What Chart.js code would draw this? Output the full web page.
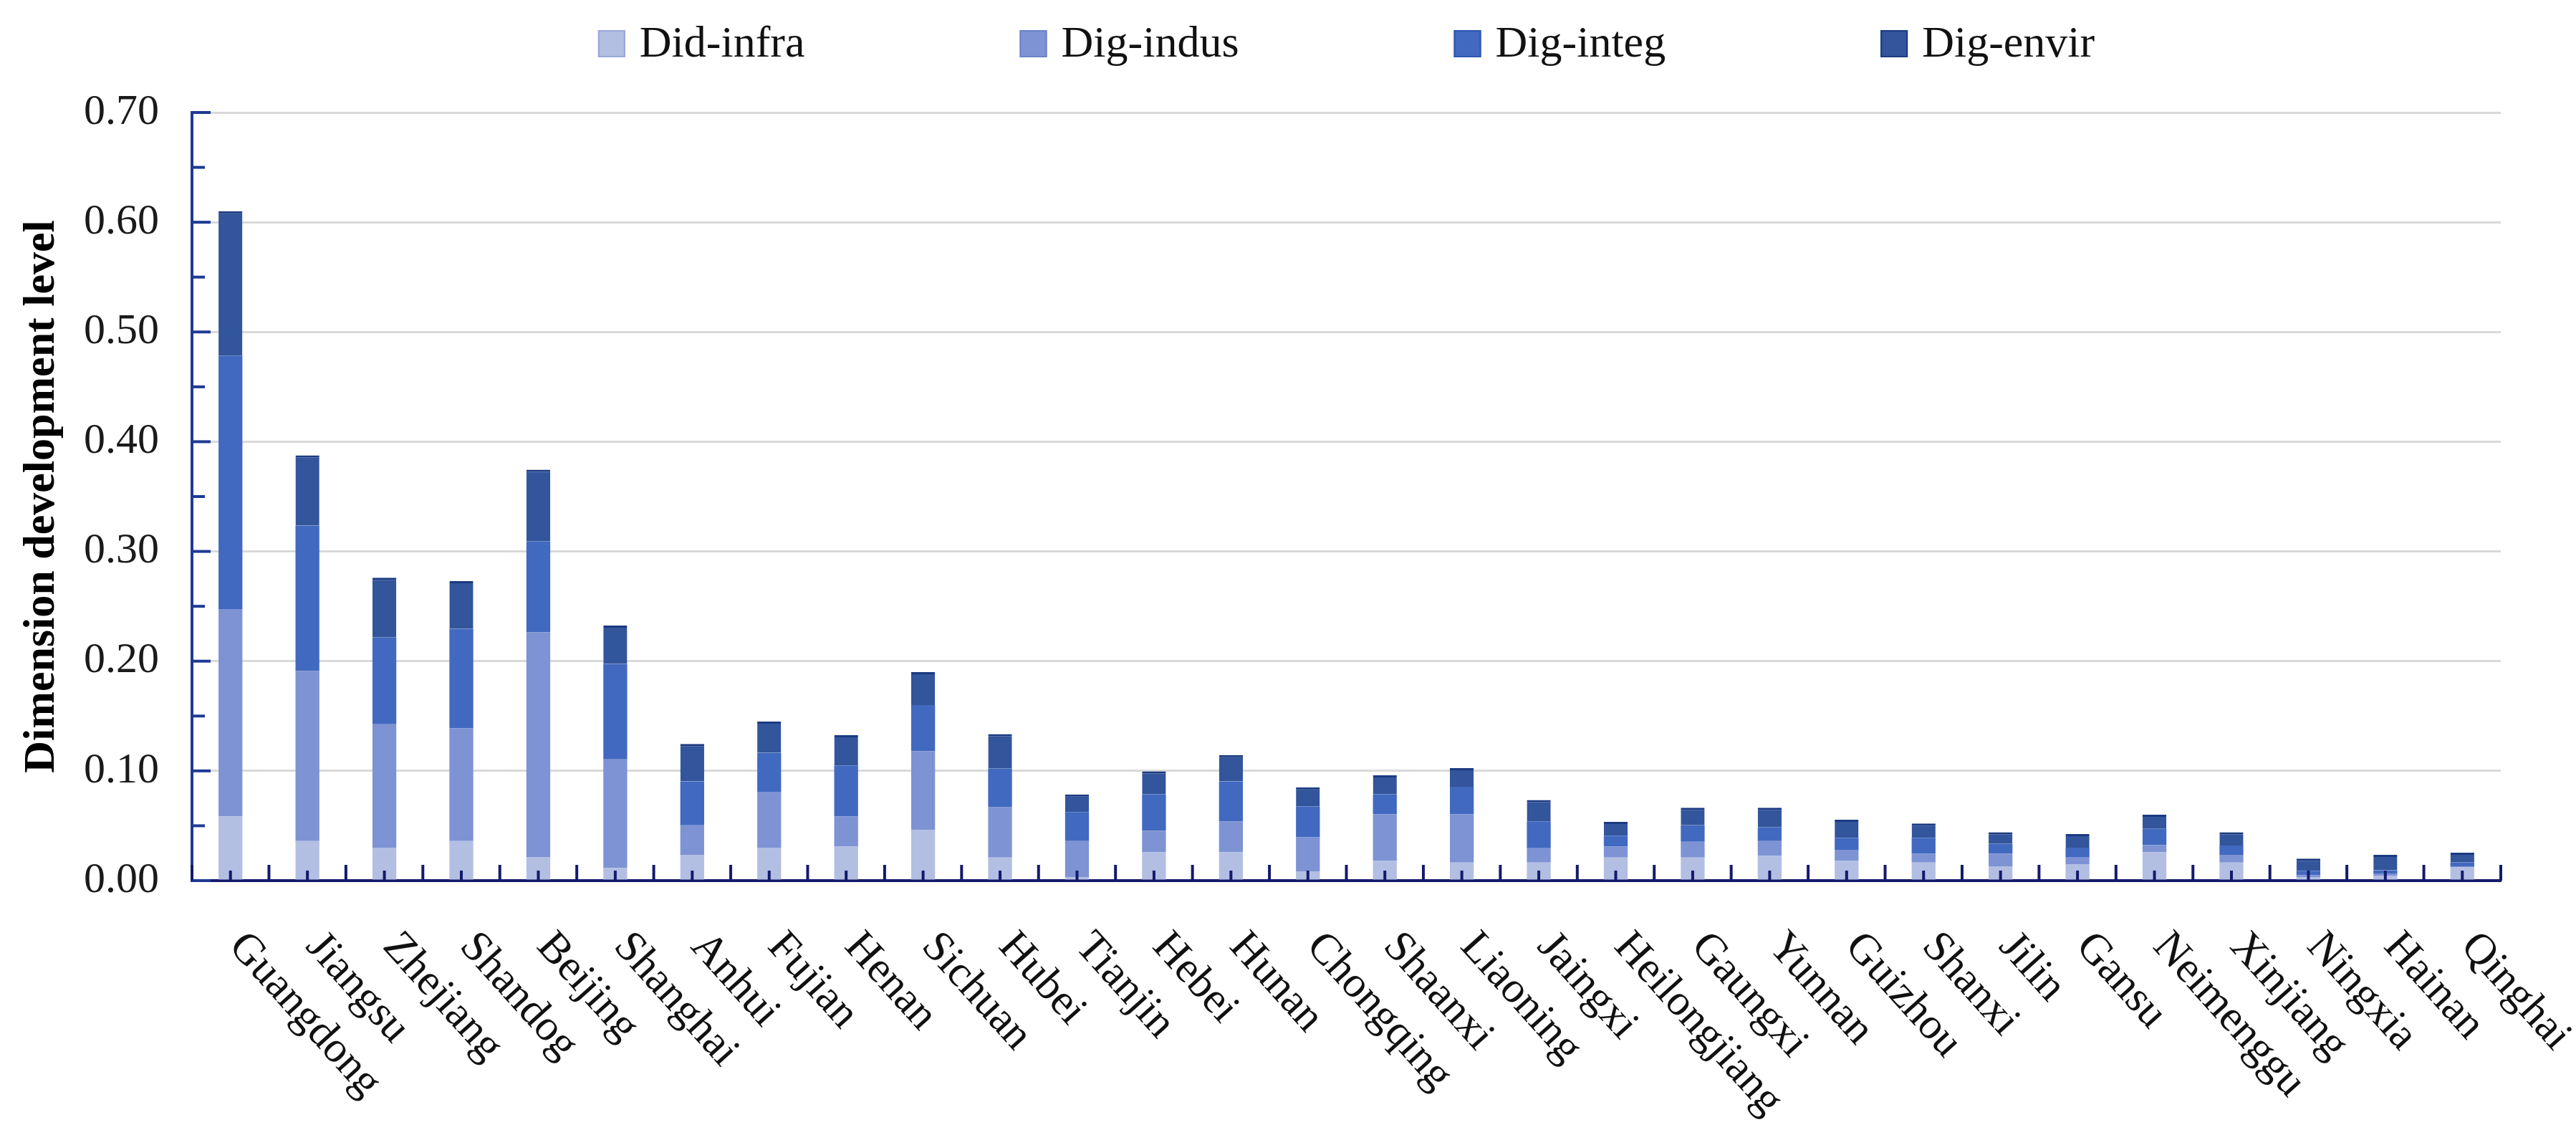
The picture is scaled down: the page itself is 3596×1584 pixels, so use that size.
<!DOCTYPE html>
<html>
<head>
<meta charset="utf-8">
<script src="https://cdn.jsdelivr.net/npm/chart.js@4.4.1/dist/chart.umd.min.js"></script>
<style>
  html, body { margin: 0; padding: 0; background: #ffffff; }
  #wrap { width: 3596px; height: 1584px; position: relative; }
</style>
</head>
<body>
<div id="wrap"><canvas id="c"></canvas></div>
<script>
const categories = ["Guangdong","Jiangsu","Zhejiang","Shandog","Beijing","Shanghai","Anhui","Fujian","Henan","Sichuan",
  "Hubei","Tianjin","Hebei","Hunan","Chongqing","Shaanxi","Liaoning","Jaingxi","Heilongjiang","Gaungxi",
  "Yunnan","Guizhou","Shanxi","Jilin","Gansu","Neimenggu","Xinjiang","Ningxia","Hainan","Qinghai"];

const seriesNames = ["Did-infra","Dig-indus","Dig-integ","Dig-envir"];

const didInfra = [0.0585,0.036,0.030,0.036,0.0215,0.0115,0.0235,0.030,0.031,0.046,
  0.021,0.003,0.026,0.026,0.0085,0.018,0.0165,0.0165,0.021,0.021,
  0.0225,0.018,0.0165,0.013,0.015,0.026,0.0165,0.003,0.0045,0.012];
const digIndus = [0.189,0.155,0.1125,0.103,0.205,0.099,0.027,0.051,0.0275,0.072,
  0.046,0.033,0.0195,0.028,0.031,0.0425,0.044,0.013,0.010,0.0145,
  0.0135,0.010,0.008,0.0115,0.0065,0.0065,0.007,0.002,0.002,0.001];
const digInteg = [0.231,0.1325,0.079,0.0905,0.0825,0.087,0.040,0.0355,0.0465,0.042,
  0.035,0.0265,0.033,0.0365,0.028,0.018,0.025,0.0245,0.010,0.015,
  0.0125,0.011,0.0145,0.009,0.0085,0.015,0.0085,0.004,0.003,0.0035];
const digEnvir = [0.1315,0.064,0.0545,0.0435,0.0655,0.035,0.034,0.0285,0.0275,0.030,
  0.0315,0.016,0.021,0.024,0.0175,0.0175,0.017,0.0195,0.0125,0.016,
  0.018,0.0165,0.013,0.0105,0.0125,0.0125,0.012,0.011,0.014,0.009];

const yTicks = [0, 0.1, 0.2, 0.3, 0.4, 0.5, 0.6, 0.7];
const yTitle = "Dimension development level";

const colors = ["#b3bee3", "#7d93d3", "#4169bf", "#32559b"];
const legendBorders = ["#9aa8d8", "#6a82c6", "#2c56b0", "#1b3a82"];
const axisBlue = "#1f3a93";
const axisNavy = "#141a6b";
const FONT = '"Liberation Serif", "Times New Roman", serif';

const tickPlugin = {
  id: 'tickPlugin',
  afterDraw(chart) {
    const ctx = chart.ctx;
    const xs = chart.scales.x, ys = chart.scales.y;
    const area = chart.chartArea;
    ctx.save();
    // y ticks (inside), major + minor
    ctx.strokeStyle = axisBlue; ctx.lineWidth = 4;
    for (let k = 0; k <= 14; k++) {
      const v = k * 0.05;
      const py = ys.getPixelForValue(v);
      const len = (k % 2 === 0) ? 26 : 18;
      ctx.beginPath(); ctx.moveTo(area.left, py); ctx.lineTo(area.left + len, py); ctx.stroke();
    }
    // x ticks (inside, upward)
    ctx.strokeStyle = axisNavy; ctx.lineWidth = 4;
    const step = xs.getPixelForValue(1) - xs.getPixelForValue(0);
    for (let i = 0; i < categories.length; i++) {
      const cx = xs.getPixelForValue(i);
      ctx.beginPath(); ctx.moveTo(cx, area.bottom); ctx.lineTo(cx, area.bottom - 14); ctx.stroke();
      const bx = cx - step / 2;
      ctx.beginPath(); ctx.moveTo(bx, area.bottom); ctx.lineTo(bx, area.bottom - 22); ctx.stroke();
      if (i === categories.length - 1) {
        const ex = cx + step / 2;
        ctx.beginPath(); ctx.moveTo(ex, area.bottom); ctx.lineTo(ex, area.bottom - 22); ctx.stroke();
      }
    }
    // x labels rotated clockwise
    ctx.font = '61px ' + FONT;
    ctx.fillStyle = '#111111';
    ctx.textAlign = 'left';
    ctx.textBaseline = 'middle';
    chart.data.labels.forEach((lab, i) => {
      const cx = xs.getPixelForValue(i);
      ctx.save();
      ctx.translate(cx + 8, area.bottom + 82);
      ctx.rotate(48 * Math.PI / 180);
      ctx.fillText(lab, 0, 0);
      ctx.restore();
    });
    // legend
    ctx.font = '62px ' + FONT;
    const box = 38, gapText = 20, gapItem = 300;
    const widths = chart.data.datasets.map(d => box + gapText + ctx.measureText(d.label).width);
    const total = widths.reduce((a, b) => a + b, 0) + gapItem * (widths.length - 1);
    let lx = (area.left + area.right) / 2 - total / 2;
    const ly = 61;
    chart.data.datasets.forEach((d, i) => {
      ctx.fillStyle = d.backgroundColor;
      ctx.fillRect(lx, ly - box / 2, box, box);
      ctx.strokeStyle = legendBorders[i]; ctx.lineWidth = 2;
      ctx.strokeRect(lx + 1, ly - box / 2 + 1, box - 2, box - 2);
      ctx.fillStyle = '#111111';
      ctx.textBaseline = 'middle';
      ctx.fillText(d.label, lx + box + gapText, ly + 2);
      lx += widths[i] + gapItem;
    });
    ctx.restore();
  }
};

const seriesValues = [didInfra, digIndus, digInteg, digEnvir];
const datasets = seriesNames.map((name, i) => ({
  label: name,
  data: seriesValues[i],
  backgroundColor: colors[i],
  borderColor: i === 3 ? '#1b3a82' : colors[i],
  borderWidth: i === 3 ? {top: 3, left: 0, right: 0, bottom: 0} : 0,
  borderSkipped: false,
  barPercentage: 0.31,
  categoryPercentage: 1.0
}));

new Chart(document.getElementById('c'), {
  type: 'bar',
  data: { labels: categories, datasets },
  options: {
    responsive: true,
    maintainAspectRatio: false,
    animation: false,
    devicePixelRatio: 1,
    layout: { padding: { top: 157, left: 0, right: 105, bottom: 355 } },
    plugins: { legend: { display: false }, tooltip: { enabled: false } },
    scales: {
      x: {
        stacked: true,
        grid: { display: false, drawTicks: false },
        border: { display: true, color: axisNavy, width: 4 },
        ticks: { display: false },
        afterFit(scale) { scale.height = 0; }
      },
      y: {
        stacked: true,
        min: 0, max: 0.7,
        afterBuildTicks(scale) { scale.ticks = yTicks.map(v => ({ value: v })); },
        ticks: {
          callback: v => Number(v).toFixed(2),
          font: { family: FONT, size: 60 },
          color: '#1a1a1a',
          padding: 46
        },
        grid: { color: '#d9d9d9', lineWidth: 3, drawTicks: false },
        border: { display: true, color: axisBlue, width: 4 },
        title: {
          display: true,
          text: yTitle,
          font: { family: FONT, size: 62, weight: 'bold' },
          color: '#000000',
          padding: { top: 22, bottom: 0 }
        },
        afterFit(scale) { scale.width = 268; }
      }
    }
  },
  plugins: [tickPlugin]
});
</script>
</body>
</html>
